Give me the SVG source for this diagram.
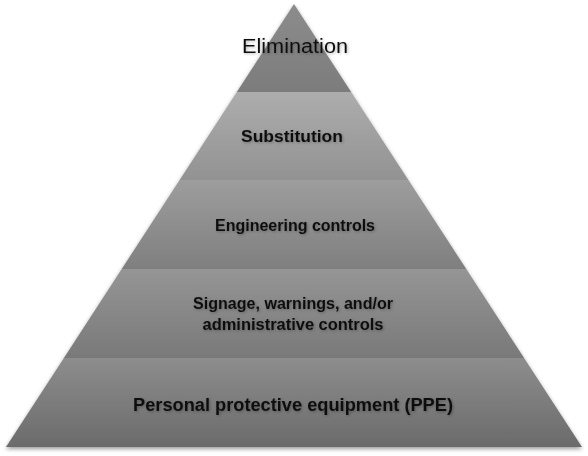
<svg xmlns="http://www.w3.org/2000/svg" width="588" height="456" viewBox="0 0 588 456">
<style>
.lbl{font-family:"Liberation Sans",Arial,sans-serif;font-weight:bold;fill:#111;text-anchor:middle;}
.top{font-family:"Liberation Sans",Arial,sans-serif;fill:#111;text-anchor:middle;}
</style>
<defs>
<linearGradient id="g1" x1="0" y1="0" x2="0" y2="1"><stop offset="0" stop-color="#8c8c8c"/><stop offset="1" stop-color="#7c7c7c"/></linearGradient>
<linearGradient id="g2" x1="0" y1="0" x2="0" y2="1"><stop offset="0" stop-color="#adadad"/><stop offset="1" stop-color="#929292"/></linearGradient>
<linearGradient id="g3" x1="0" y1="0" x2="0" y2="1"><stop offset="0" stop-color="#9d9d9d"/><stop offset="1" stop-color="#7f7f7f"/></linearGradient>
<linearGradient id="g4" x1="0" y1="0" x2="0" y2="1"><stop offset="0" stop-color="#959595"/><stop offset="1" stop-color="#797979"/></linearGradient>
<linearGradient id="g5" x1="0" y1="0" x2="0" y2="1"><stop offset="0" stop-color="#8d8d8d"/><stop offset="1" stop-color="#6b6b6b"/></linearGradient>
<filter id="sh" x="-10%" y="-10%" width="120%" height="130%">
<feGaussianBlur in="SourceAlpha" stdDeviation="2"/>
<feOffset dx="0" dy="2" result="b"/>
<feComponentTransfer><feFuncA type="linear" slope="0.4"/></feComponentTransfer>
<feMerge><feMergeNode/><feMergeNode in="SourceGraphic"/></feMerge>
</filter>
<filter id="ts" x="-20%" y="-50%" width="140%" height="200%">
<feGaussianBlur in="SourceAlpha" stdDeviation="1.5"/>
<feOffset dx="1" dy="1"/>
<feComponentTransfer><feFuncA type="linear" slope="0.3"/></feComponentTransfer>
<feMerge><feMergeNode/><feMergeNode in="SourceGraphic"/></feMerge>
</filter>
</defs>
<g filter="url(#sh)">
<g id="elimination">
<polygon points="294,4 351.2,92 236.8,92" fill="url(#g1)"/>
</g>
<g id="substitution">
<polygon points="236.8,92 351.2,92 408.4,180 179.6,180" fill="url(#g2)"/>
</g>
<g id="engineering">
<polygon points="179.6,180 408.4,180 466.3,269 121.7,269" fill="url(#g3)"/>
</g>
<g id="administrative">
<polygon points="121.7,269 466.3,269 524.1,358 63.9,358" fill="url(#g4)"/>
</g>
<g id="ppe">
<polygon points="63.9,358 524.1,358 582,447 6,447" fill="url(#g5)"/>
</g>
</g>
<g filter="url(#ts)">
<text class="top" x="295" y="53" font-size="20" textLength="106" lengthAdjust="spacingAndGlyphs">Elimination</text>
<text class="lbl" x="292" y="142" font-size="17" textLength="102" lengthAdjust="spacingAndGlyphs">Substitution</text>
<text class="lbl" x="295" y="231" font-size="16" textLength="160" lengthAdjust="spacingAndGlyphs">Engineering controls</text>
<text class="lbl" x="293" y="309" font-size="16" textLength="200" lengthAdjust="spacingAndGlyphs">Signage, warnings, and/or</text>
<text class="lbl" x="293" y="330" font-size="16" textLength="181" lengthAdjust="spacingAndGlyphs">administrative controls</text>
<text class="lbl" x="293" y="411" font-size="17.5" textLength="320" lengthAdjust="spacingAndGlyphs">Personal protective equipment (PPE)</text>
</g>
</svg>
